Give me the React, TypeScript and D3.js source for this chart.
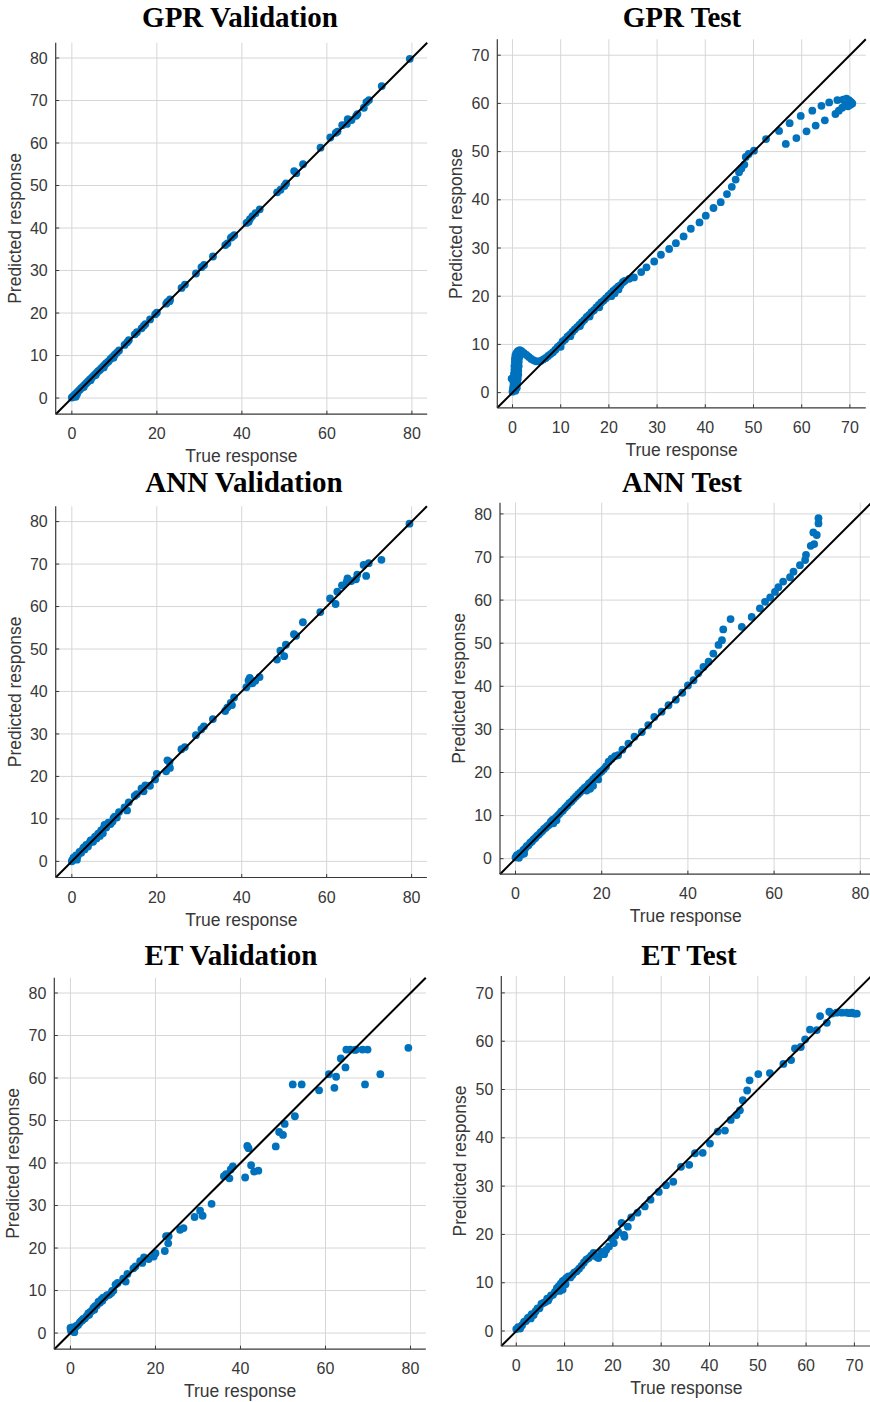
import React from 'react';
import * as d3 from 'd3';

// validation set: true response shared by the three models
const valTrue = [
  79.5, 72.9, 69.9, 69.3, 68.7, 67.2, 66.9, 65.8, 64.9, 64.7, 63.6, 62.5, 62.1, 60.8, 58.5,
  54.4, 52.3, 52.8, 50.4, 50.0, 49.1, 48.3, 44.2, 43.2, 42.5, 41.9, 41.6, 41.1, 38.2, 37.7,
  37.4, 36.6, 36.1, 33.2, 31.1, 30.5, 29.2, 26.6, 25.8, 23.1, 23.0, 22.5, 22.2, 20.0, 19.6,
  18.4, 17.3, 16.9, 16.4, 15.3, 14.8, 13.4, 13.0, 12.4, 11.1, 10.6, 10.1, 9.6, 9.1, 8.6,
  8.1, 7.7, 7.3, 6.9, 6.6, 6.2, 5.8, 5.4, 5.0, 4.6, 4.2, 3.8, 3.4, 3.0, 2.6,
  2.2, 1.8, 1.4, 1.0, 0.7, 0.4, 0.1, 0.0, 0.9, 1.2, 2.8, 4.4, 5.6, 7.5, 9.8,
];
const gprValPred = [
  79.8, 73.4, 70.1, 69.6, 68.3, 66.8, 66.4, 65.4, 65.6, 64.5, 64.2, 62.7, 62.4, 61.3, 58.9,
  55.0, 53.4, 52.9, 50.5, 49.9, 49.0, 48.4, 44.4, 43.5, 42.8, 42.1, 41.5, 41.2, 38.3, 37.9,
  37.7, 36.4, 36.0, 33.3, 31.3, 30.8, 29.3, 26.7, 25.9, 23.2, 22.8, 22.6, 22.2, 20.1, 19.7,
  18.5, 17.4, 17.0, 16.4, 15.5, 15.0, 13.6, 13.1, 12.5, 11.2, 10.7, 10.2, 9.7, 9.2, 8.6,
  8.2, 7.8, 7.4, 7.0, 6.6, 6.3, 5.9, 5.5, 5.1, 4.7, 4.3, 3.9, 3.5, 3.1, 2.7,
  2.3, 1.9, 1.5, 1.1, 0.8, 0.5, 0.2, 0.1, 0.3, 0.9, 2.6, 4.2, 5.4, 7.2, 9.5,
];
const annValPred = [
  79.5, 71.0, 70.2, 67.2, 69.8, 67.5, 66.4, 66.0, 66.6, 65.8, 65.0, 63.5, 60.6, 61.9, 58.7,
  56.3, 53.5, 53.1, 51.0, 48.3, 49.6, 47.5, 43.4, 42.5, 41.9, 43.2, 42.6, 41.0, 38.6, 36.8,
  37.3, 36.2, 35.4, 33.5, 31.8, 31.1, 29.7, 26.9, 26.4, 22.0, 23.4, 23.8, 21.2, 20.6, 19.3,
  17.8, 17.9, 16.5, 17.2, 15.8, 15.4, 13.9, 12.0, 12.7, 11.6, 10.3, 10.5, 9.4, 8.8, 9.1,
  8.0, 8.6, 6.6, 7.3, 6.0, 6.5, 5.4, 5.7, 4.6, 5.0, 4.4, 3.5, 3.9, 2.8, 2.9,
  2.0, 2.2, 1.3, 1.4, 0.5, 0.9, 0.3, 0.0, 1.0, 0.4, 3.3, 4.9, 5.9, 7.8, 10.2,
];
const etValPred = [
  67.1, 60.9, 66.7, 58.5, 66.7, 66.7, 66.6, 66.7, 66.7, 62.5, 64.6, 60.3, 57.7, 60.9, 57.1,
  58.5, 58.5, 51.0, 49.2, 46.6, 47.3, 43.9, 38.2, 38.0, 39.5, 43.5, 44.0, 36.6, 39.2, 38.5,
  36.4, 37.4, 36.9, 30.4, 27.6, 28.8, 27.3, 24.7, 24.3, 22.8, 21.1, 22.8, 19.3, 18.8, 18.0,
  17.4, 17.8, 16.5, 16.9, 15.7, 15.2, 13.9, 12.1, 12.8, 11.8, 11.4, 10.0, 9.4, 9.0, 8.9,
  8.4, 8.3, 7.9, 7.1, 7.4, 6.5, 6.3, 5.9, 5.2, 4.9, 4.6, 4.0, 3.5, 3.3, 2.9,
  2.5, 1.9, 1.7, 1.1, 0.4, 1.3, 0.6, 1.2, 0.2, 1.5, 3.0, 4.3, 5.5, 7.6, 9.9,
];

// test sets: [true, predicted]
const gprTestPoints = [
  [-0.2, 2.9], [0.0, 0.2], [0.1, 0.9], [0.2, 1.6], [0.2, 2.3], [0.3, 3.1], [0.3, 3.9], [0.4, 4.7],
  [0.4, 5.5], [0.5, 6.3], [0.5, 7.0], [0.6, 7.7], [0.8, 8.2], [1.1, 8.6], [1.5, 8.8], [1.9, 8.6],
  [2.4, 8.2], [2.9, 7.8], [3.4, 7.4], [3.9, 7.0], [4.4, 6.7], [4.9, 6.5], [5.4, 6.5], [5.9, 6.6],
  [6.4, 6.9], [6.9, 7.2], [7.4, 7.6], [7.9, 8.0], [8.4, 8.4], [0.6, 0.4], [0.9, 1.0], [1.0, 1.9],
  [1.1, 2.8], [1.2, 3.7], [1.2, 4.6], [1.3, 5.5], [1.3, 6.4], [1.4, 7.3], [1.6, 8.0], [0.7, 5.0],
  [0.8, 6.5], [0.6, 2.5], [1.0, 7.8], [8.9, 8.9], [9.4, 9.5], [9.9, 9.9], [10.4, 10.6], [10.9, 11.0],
  [11.4, 11.6], [11.9, 12.0], [12.4, 12.6], [12.9, 13.1], [13.4, 13.6], [13.9, 14.1], [14.4, 14.6],
  [14.9, 15.1], [15.4, 15.7], [15.9, 16.1], [16.4, 16.7], [16.9, 17.1], [17.4, 17.7], [17.9, 18.2],
  [18.4, 18.7], [18.9, 19.1], [19.4, 19.6], [19.9, 20.1], [20.4, 20.6], [20.9, 21.1], [21.4, 21.5],
  [21.9, 22.0], [22.4, 22.3], [22.9, 22.9], [23.3, 23.2], [20.5, 20.0], [21.2, 20.6], [22.0, 21.4],
  [10.0, 9.5], [12.0, 11.7], [14.0, 13.8], [16.0, 15.8], [18.0, 17.7], [24.2, 23.6], [25.2, 23.9],
  [26.7, 25.0], [27.8, 26.0], [29.4, 27.2], [30.8, 28.6], [32.5, 29.8], [33.9, 31.0], [35.5, 32.4],
  [37.0, 34.0], [38.8, 35.3], [40.1, 36.7], [41.7, 38.3], [43.2, 39.5], [44.5, 41.2], [45.5, 42.7],
  [46.3, 44.2], [47.0, 45.7], [47.5, 46.5], [48.1, 47.3], [48.4, 48.9], [49.0, 49.5], [50.1, 50.2],
  [52.6, 52.6], [55.3, 54.3], [57.5, 55.9], [59.8, 57.4], [62.2, 58.5], [64.1, 59.5], [65.7, 60.2],
  [67.4, 60.7], [68.6, 60.8], [69.3, 61.0], [69.8, 60.7], [70.2, 60.3], [70.5, 60.0], [70.1, 59.7],
  [69.6, 59.4], [69.1, 60.1], [68.4, 59.1], [67.7, 58.5], [67.0, 57.8], [64.8, 56.5], [62.9, 55.4],
  [61.0, 54.2], [58.9, 52.8], [56.7, 51.6],
];
const annTestPoints = [
  [0.0, 0.3], [0.3, 0.8], [0.6, 0.4], [1.0, 1.3], [1.4, 1.0], [1.8, 2.0], [2.2, 2.3], [2.6, 2.9],
  [3.0, 3.1], [3.4, 3.7], [3.8, 4.0], [4.2, 4.5], [4.6, 4.8], [5.0, 5.3], [5.4, 5.6], [5.8, 6.1],
  [6.2, 6.4], [6.6, 6.9], [7.0, 7.2], [7.4, 7.6], [7.8, 7.9], [8.2, 8.6], [8.6, 9.0], [9.0, 9.2],
  [9.4, 9.6], [9.8, 10.0], [10.2, 10.4], [10.6, 10.9], [11.0, 11.2], [11.5, 11.8], [12.0, 12.3],
  [12.5, 12.9], [13.0, 13.3], [13.5, 13.9], [14.0, 14.4], [14.5, 14.9], [15.0, 15.4], [15.5, 15.9],
  [16.0, 16.4], [16.5, 16.8], [17.0, 17.4], [17.5, 17.8], [18.0, 18.4], [18.5, 18.9], [19.0, 19.3],
  [19.5, 19.9], [20.0, 20.3], [20.5, 20.8], [21.0, 21.4], [8.8, 8.2], [9.5, 8.9], [16.5, 15.8],
  [17.3, 16.2], [18.0, 16.9], [19.2, 18.4], [2.0, 1.2], [0.8, 0.2], [21.6, 22.5], [22.3, 23.2],
  [23.1, 23.8], [23.8, 24.0], [24.8, 25.3], [26.2, 26.7], [27.6, 28.3], [29.3, 29.4], [30.8, 31.0],
  [32.2, 32.9], [33.9, 34.1], [35.5, 35.6], [37.2, 36.9], [38.7, 38.5], [40.0, 40.2], [41.3, 41.4],
  [42.4, 43.0], [43.6, 44.5], [44.8, 45.7], [45.9, 47.6], [47.1, 49.6], [47.9, 50.7], [48.2, 53.2],
  [49.9, 55.6], [52.5, 53.8], [54.8, 56.1], [56.7, 58.1], [57.9, 59.6], [59.1, 60.6], [60.2, 61.9],
  [61.0, 63.0], [62.1, 64.3], [63.7, 65.3], [64.5, 66.6], [66.0, 68.1], [67.2, 69.3], [67.4, 70.5],
  [68.5, 72.6], [69.3, 73.0], [69.1, 75.7], [69.9, 75.1], [70.3, 77.8], [70.3, 79.0],
];
const etTestPoints = [
  [0.0, 0.4], [0.4, 0.8], [0.8, 0.5], [1.2, 1.2], [1.6, 1.9], [2.0, 2.1], [2.4, 2.7], [2.8, 2.9],
  [3.2, 3.5], [3.6, 3.3], [4.0, 4.1], [4.4, 4.7], [4.8, 4.7], [5.2, 5.6], [5.6, 5.8], [6.0, 6.0],
  [6.4, 6.7], [6.8, 6.8], [7.2, 7.4], [7.6, 7.5], [8.0, 8.1], [8.4, 8.9], [8.8, 9.3], [9.2, 9.8],
  [9.6, 10.3], [10.0, 10.6], [10.4, 11.0], [10.8, 11.3], [11.2, 11.1], [11.6, 11.6], [12.0, 12.1],
  [12.5, 12.4], [13.0, 12.9], [13.5, 13.5], [14.0, 14.2], [14.5, 14.8], [15.0, 15.1], [15.5, 15.6],
  [16.0, 16.2], [9.0, 8.3], [9.6, 8.6], [10.2, 9.7], [3.0, 2.6], [6.6, 6.3], [16.6, 15.4],
  [17.0, 15.1], [17.6, 16.4], [18.2, 15.9], [18.6, 16.8], [19.2, 17.5], [19.7, 19.2], [20.2, 18.2],
  [20.5, 19.7], [21.1, 20.5], [21.8, 22.4], [22.3, 19.9], [22.4, 19.5], [23.1, 21.6], [23.8, 23.5],
  [25.1, 24.5], [26.6, 25.8], [27.8, 27.2], [29.5, 28.8], [31.0, 30.2], [32.5, 30.9], [34.1, 34.0],
  [35.8, 34.4], [37.0, 36.8], [38.6, 36.9], [40.1, 38.8], [41.7, 41.3], [43.2, 41.5], [44.4, 43.7],
  [45.6, 44.7], [46.3, 45.7], [46.9, 47.8], [47.8, 49.8], [48.3, 51.9], [50.1, 53.2], [52.5, 53.4],
  [55.3, 55.3], [56.9, 56.1], [57.7, 58.5], [58.9, 58.8], [59.8, 60.4], [60.8, 62.4], [62.2, 62.3],
  [62.9, 65.2], [64.3, 63.8], [64.8, 66.1], [65.3, 65.7], [66.3, 65.9], [67.4, 65.9], [68.4, 65.9],
  [69.5, 65.9], [70.0, 65.7], [70.5, 65.7], [69.0, 65.8],
];

const xTicks80 = [0, 20, 40, 60, 80];
const yTicks80 = [0, 10, 20, 30, 40, 50, 60, 70, 80];
const ticks70 = [0, 10, 20, 30, 40, 50, 60, 70];

const zipVal = (pred) => valTrue.map((t, i) => [t, pred[i]]);

const panels = [
  { title: 'GPR Validation', points: zipVal(gprValPred), xTicks: xTicks80, yTicks: yTicks80, domain: [-3.8, 83.6],
    left: 55.7, top: 42.7, size: 371.5, titleX: 240, titleY: 27 },
  { title: 'GPR Test', points: gprTestPoints, xTicks: ticks70, yTicks: ticks70, domain: [-3.15, 73.3],
    left: 497.3, top: 39.3, size: 368.5, titleX: 682, titleY: 27 },
  { title: 'ANN Validation', points: zipVal(annValPred), xTicks: xTicks80, yTicks: yTicks80, domain: [-3.8, 83.6],
    left: 55.7, top: 506.3, size: 371.2, titleX: 244, titleY: 492 },
  { title: 'ANN Test', points: annTestPoints, xTicks: xTicks80, yTicks: yTicks80, domain: [-3.6, 82.6],
    left: 500, top: 502.7, size: 371.5, titleX: 682, titleY: 492 },
  { title: 'ET Validation', points: zipVal(etValPred), xTicks: xTicks80, yTicks: yTicks80, domain: [-3.8, 83.6],
    left: 54.3, top: 977.7, size: 371.5, titleX: 231, titleY: 965 },
  { title: 'ET Test', points: etTestPoints, xTicks: ticks70, yTicks: ticks70, domain: [-3.1, 73.5],
    left: 501.3, top: 976, size: 370, titleX: 689, titleY: 965 },
];

const axisColor = '#383838';
const gridColor = '#d6d6d6';
const dotColor = '#0072BD';
const sans = '"Liberation Sans", Arial, Helvetica, sans-serif';

const Panel = ({ p }) => {
  const x = d3.scaleLinear().domain(p.domain).range([p.left, p.left + p.size]);
  const y = d3.scaleLinear().domain(p.domain).range([p.top + p.size, p.top]);
  const right = p.left + p.size;
  const bottom = p.top + p.size;
  const [d0, d1] = p.domain;

  return (
    <g>
      {/* grid */}
      {p.xTicks.map(t => (
        <line key={'gx' + t} x1={x(t)} x2={x(t)} y1={p.top} y2={bottom} stroke={gridColor} strokeWidth={1} />
      ))}
      {p.yTicks.map(t => (
        <line key={'gy' + t} x1={p.left} x2={right} y1={y(t)} y2={y(t)} stroke={gridColor} strokeWidth={1} />
      ))}

      {/* scatter */}
      {p.points.map((d, i) => (
        <circle key={i} cx={x(d[0])} cy={y(d[1])} r={3.9} fill={dotColor} />
      ))}

      {/* y = x reference */}
      <line x1={x(d0)} y1={y(d0)} x2={x(d1)} y2={y(d1)} stroke="#000" strokeWidth={2} />

      {/* axes */}
      <line x1={p.left} x2={p.left} y1={p.top} y2={bottom} stroke={axisColor} strokeWidth={1.2} />
      <line x1={p.left} x2={right} y1={bottom} y2={bottom} stroke={axisColor} strokeWidth={1.2} />
      {p.xTicks.map(t => (
        <line key={'tx' + t} x1={x(t)} x2={x(t)} y1={bottom} y2={bottom - 3.5} stroke={axisColor} />
      ))}
      {p.yTicks.map(t => (
        <line key={'ty' + t} x1={p.left} x2={p.left + 3.5} y1={y(t)} y2={y(t)} stroke={axisColor} />
      ))}

      {/* tick labels */}
      {p.xTicks.map(t => (
        <text key={'lx' + t} x={x(t)} y={bottom + 25} textAnchor="middle"
          fontFamily={sans} fontSize={16} fill={axisColor}>{t}</text>
      ))}
      {p.yTicks.map(t => (
        <text key={'ly' + t} x={p.left - 8} y={y(t)} dy="0.35em" textAnchor="end"
          fontFamily={sans} fontSize={16} fill={axisColor}>{t}</text>
      ))}

      {/* axis labels */}
      <text x={(p.left + right) / 2} y={bottom + 48} textAnchor="middle"
        fontFamily={sans} fontSize={17.5} fill={axisColor}>True response</text>
      <text transform={`translate(${p.left - 35},${(p.top + bottom) / 2}) rotate(-90)`} textAnchor="middle"
        fontFamily={sans} fontSize={17.5} fill={axisColor}>Predicted response</text>

      {/* title */}
      <text x={p.titleX} y={p.titleY} textAnchor="middle" fontFamily='"Liberation Serif", "Times New Roman", serif'
        fontWeight="bold" fontSize={29} fill="#000">{p.title}</text>
    </g>
  );
};

export default function App() {
  return (
    <svg width={870} height={1402} style={{ position: 'absolute', left: 0, top: 0, background: '#fff' }}>
      <rect width={870} height={1402} fill="#fff" />
      {panels.map(p => <Panel key={p.title} p={p} />)}
    </svg>
  );
}
